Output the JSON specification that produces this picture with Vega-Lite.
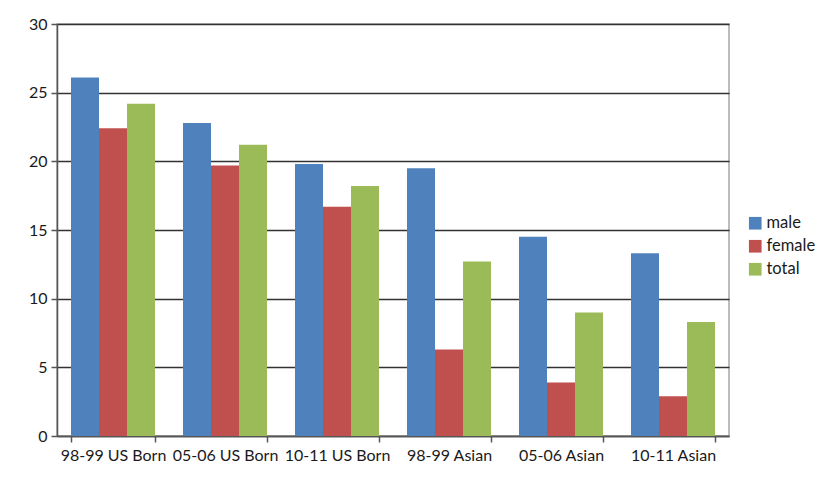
{
  "$schema": "https://vega.github.io/schema/vega-lite/v6.json",
  "description": "Grouped bars: male / female / total by period and group.",
  "autosize": {"type": "none"},
  "padding": {"left": 57, "top": 24, "right": 97, "bottom": 50},
  "width": 672,
  "height": 412,
  "background": "white",
  "config": {
    "font": "Lato",
    "view": {"stroke": "#a6a6a6", "strokeWidth": 1.5},
    "axis": {
      "labelFont": "Lato",
      "labelFontSize": 16,
      "labelColor": "#1a1a1a",
      "domainColor": "#555555",
      "domainWidth": 1.5,
      "tickColor": "#555555",
      "tickWidth": 1.5,
      "tickSize": 6,
      "gridColor": "#333333",
      "gridWidth": 1.5,
      "gridOpacity": 1
    }
  },
  "data": {
    "values": [
      {"group": "98-99 US Born", "series": "male", "value": 26.1},
      {"group": "98-99 US Born", "series": "female", "value": 22.4},
      {"group": "98-99 US Born", "series": "total", "value": 24.2},
      {"group": "05-06 US Born", "series": "male", "value": 22.8},
      {"group": "05-06 US Born", "series": "female", "value": 19.7},
      {"group": "05-06 US Born", "series": "total", "value": 21.2},
      {"group": "10-11 US Born", "series": "male", "value": 19.8},
      {"group": "10-11 US Born", "series": "female", "value": 16.7},
      {"group": "10-11 US Born", "series": "total", "value": 18.2},
      {"group": "98-99 Asian", "series": "male", "value": 19.5},
      {"group": "98-99 Asian", "series": "female", "value": 6.3},
      {"group": "98-99 Asian", "series": "total", "value": 12.7},
      {"group": "05-06 Asian", "series": "male", "value": 14.5},
      {"group": "05-06 Asian", "series": "female", "value": 3.9},
      {"group": "05-06 Asian", "series": "total", "value": 9.0},
      {"group": "10-11 Asian", "series": "male", "value": 13.3},
      {"group": "10-11 Asian", "series": "female", "value": 2.9},
      {"group": "10-11 Asian", "series": "total", "value": 8.3}
    ]
  },
  "mark": {"type": "bar"},
  "encoding": {
    "x": {
      "field": "group",
      "type": "nominal",
      "sort": null,
      "title": null,
      "scale": {"paddingInner": 0.25, "paddingOuter": 0.125},
      "axis": {"labelAngle": 0, "tickBand": "extent", "labelPadding": 5, "labelLimit": 0}
    },
    "xOffset": {
      "field": "series",
      "type": "nominal",
      "sort": ["male", "female", "total"],
      "scale": {"paddingInner": 0, "paddingOuter": 0}
    },
    "y": {
      "field": "value",
      "type": "quantitative",
      "title": null,
      "scale": {"domain": [0, 30]},
      "axis": {"values": [0, 5, 10, 15, 20, 25, 30], "labelPadding": 4}
    },
    "color": {
      "field": "series",
      "type": "nominal",
      "sort": ["male", "female", "total"],
      "scale": {"domain": ["male", "female", "total"], "range": ["#4f81bd", "#c0504d", "#9bbb59"]},
      "legend": {
        "title": null,
        "orient": "none",
        "legendX": 690,
        "legendY": 191,
        "symbolType": "square",
        "symbolSize": 160,
        "symbolStrokeWidth": 0,
        "symbolOpacity": 1,
        "labelFontSize": 16.5,
        "labelColor": "#1a1a1a",
        "labelOffset": 3,
        "rowPadding": 6
      }
    }
  }
}
